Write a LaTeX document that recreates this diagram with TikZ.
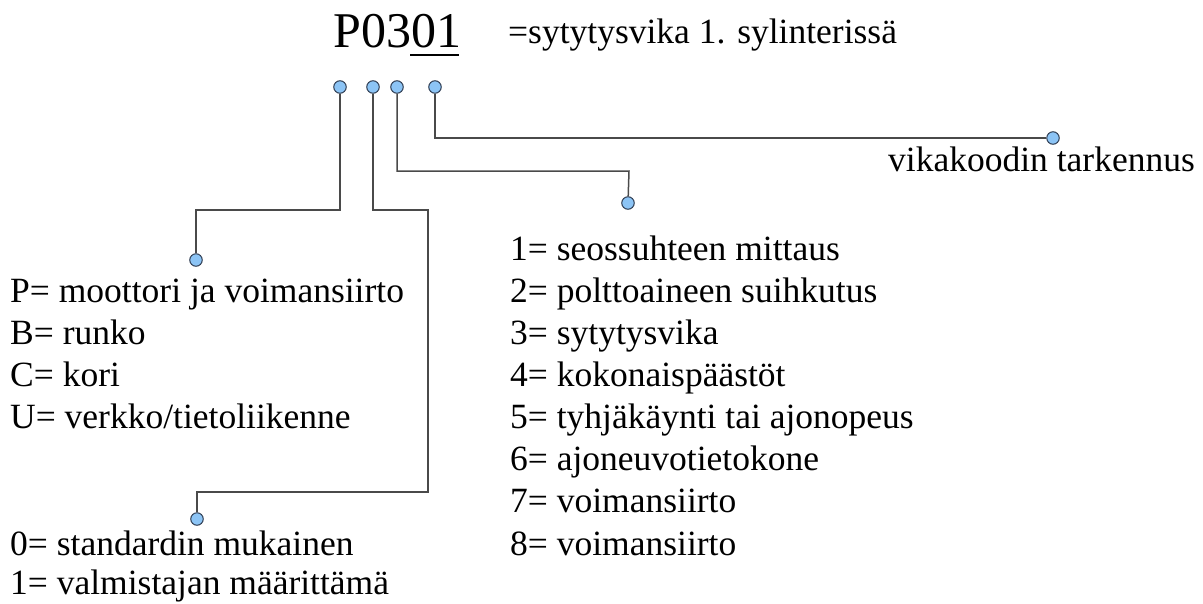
\documentclass[tikz,border=0pt]{standalone}
\usepackage{fontspec}
\setmainfont{Liberation Serif}
\definecolor{dotfill}{HTML}{8CC4F5}
\definecolor{dotline}{HTML}{2E3B50}
\definecolor{linec}{HTML}{4A4A4A}
\begin{document}
\begin{tikzpicture}[x=1pt,y=-1pt,
  dot/.style={circle,draw=dotline,fill=dotfill,line width=1pt,inner sep=0pt,minimum size=12.5pt},
  conn/.style={draw=linec,line width=1.5pt},
  lbl/.style={anchor=base west,inner sep=0pt,font=\fontsize{35.5}{35.5}\selectfont},
  big/.style={anchor=base west,inner sep=0pt,font=\fontsize{50}{50}\selectfont}]
\useasboundingbox (0,0) rectangle (1203,603);
% header
\node[big] (code) at (333,47) {P0301};
\draw[line width=2pt] (410,55) -- (459,55);
\node[lbl] (mean) at (508,43) {=sytytysvika 1. sylinterissä};
% top dots
\node[dot] (c1) at (340,87) {};
\node[dot] (c2) at (373,87) {};
\node[dot] (c3) at (397,87) {};
\node[dot] (c4) at (435,87) {};
% end dots
\node[dot] (e1) at (196,260) {};
\node[dot] (e2) at (197,519) {};
\node[dot] (e3) at (628,203) {};
\node[dot] (e4) at (1053,138) {};
% corners
\coordinate (h1) at (0,210);
\coordinate (p2a) at (428,210);
\coordinate (p2b) at (428,492);
\coordinate (p3) at (629,171);
% connectors
\draw[conn] (c1) -- (c1 |- h1) -| (e1);
\draw[conn] (c2) |- (p2a) -- (p2b) -| (e2);
\draw[conn] (c3) |- (p3) -- (e3);
\draw[conn] (c4) |- (e4);
% texts
\node[lbl,anchor=base east] (t4) at (1195,171) {vikakoodin tarkennus};
\node[lbl] (l1) at (10,302) {P= moottori ja voimansiirto};
\node[lbl] (l2) at (10,344) {B= runko};
\node[lbl] (l3) at (10,386) {C= kori};
\node[lbl] (l4) at (10,428) {U= verkko/tietoliikenne};
\node[lbl] (s0) at (10,555) {0= standardin mukainen};
\node[lbl] (s1) at (10,594) {1= valmistajan määrittämä};
\node[lbl] (r1) at (510,260) {1= seossuhteen mittaus};
\node[lbl] (r2) at (510,302) {2= polttoaineen suihkutus};
\node[lbl] (r3) at (510,344) {3= sytytysvika};
\node[lbl] (r4) at (510,386) {4= kokonaispäästöt};
\node[lbl] (r5) at (510,428) {5= tyhjäkäynti tai ajonopeus};
\node[lbl] (r6) at (510,470) {6= ajoneuvotietokone};
\node[lbl] (r7) at (510,512) {7= voimansiirto};
\node[lbl] (r8) at (510,555) {8= voimansiirto};
\end{tikzpicture}
\end{document}
